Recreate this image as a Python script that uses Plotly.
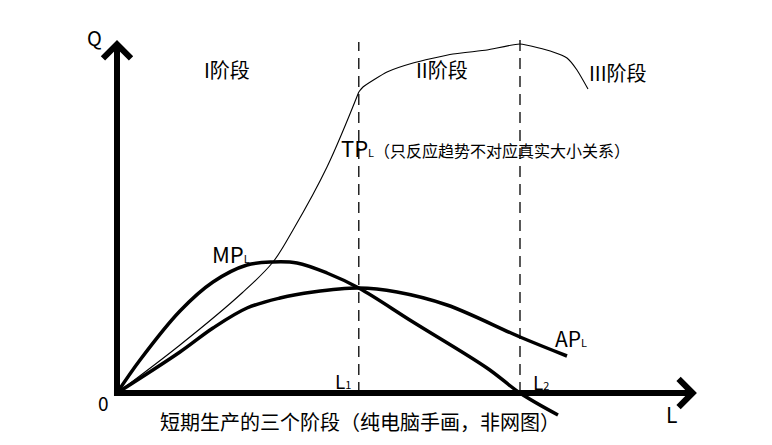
import plotly.graph_objects as go

# ---- data (labour L on x, output Q on y; arbitrary units) ----
L1 = 6.0
L2 = 10.0

tp_L = [0, 1.563, 3.102, 3.871, 4.367, 5.211, 6.0, 6.104, 6.700, 7.345, 8.337, 9.181, 10.0, 10.819, 11.166, 11.414, 11.687]
tp_Q = [0, 4.8, 10.0, 13.1, 16.3, 22.6, 30.1, 30.6, 32.1, 33.0, 33.9, 34.3, 34.9, 34.1, 33.5, 32.3, 30.4]

mp_L = [0, 0.571, 1.563, 2.382, 3.226, 3.871, 4.467, 5.211, 6.0, 7.345, 9.181, 10.0, 10.943]
mp_Q = [0, 3.3, 8.2, 11.1, 12.8, 13.1, 13.0, 12.0, 10.5, 7.1, 2.5, 0, -2.2]

ap_L = [0, 1.563, 2.382, 3.226, 4.045, 4.864, 6.0, 6.948, 8.189, 10.0, 11.166]
ap_Q = [0, 4.1, 6.5, 8.5, 9.5, 10.1, 10.5, 10.1, 8.8, 5.6, 3.7]

L_MAX = 14.39   # end of the L axis (arrow tip)
Q_MAX = 35.3    # end of the Q axis (arrow tip)
L1_TOP = 35.1
L2_TOP = 35.5

# page body has an 8px margin: figure spans screen pixels 8..764 x 8..437
OFF = 8
W, H = 756, 429
PX_PER_L = 40.3
PX_PER_Q = 10.0
X0_SCREEN, Y0_SCREEN = 117, 393
X_RANGE = [(OFF - X0_SCREEN) / PX_PER_L, (OFF + W - X0_SCREEN) / PX_PER_L]
Y_RANGE = [(Y0_SCREEN - (OFF + H)) / PX_PER_Q, (Y0_SCREEN - OFF) / PX_PER_Q]

FONT = "Noto Sans CJK SC, Noto Sans, sans-serif"

fig = go.Figure()

k = tp_L.index(L1)
fig.add_trace(go.Scatter(x=tp_L[:k + 1], y=tp_Q[:k + 1], mode="lines",
                         line=dict(color="black", width=1.1, shape="spline", smoothing=1.0),
                         hoverinfo="skip"))
fig.add_trace(go.Scatter(x=tp_L[k:], y=tp_Q[k:], mode="lines",
                         line=dict(color="black", width=1.1, shape="spline", smoothing=0.5),
                         hoverinfo="skip"))
fig.add_trace(go.Scatter(x=mp_L, y=mp_Q, mode="lines",
                         line=dict(color="black", width=3.5, shape="spline", smoothing=1.0),
                         hoverinfo="skip"))
fig.add_trace(go.Scatter(x=ap_L, y=ap_Q, mode="lines",
                         line=dict(color="black", width=3.5, shape="spline", smoothing=1.0),
                         hoverinfo="skip"))

shapes = [
    dict(type="line", xref="x", yref="y", x0=-0.075, y0=0, x1=L_MAX - 0.3, y1=0,
         line=dict(color="black", width=6)),
    dict(type="line", xref="x", yref="y", x0=0, y0=-0.3, x1=0, y1=Q_MAX - 1.0,
         line=dict(color="black", width=6)),
    dict(type="line", xref="x", yref="y", x0=L1, y0=0, x1=L1, y1=L1_TOP,
         line=dict(color="black", width=1.3, dash="11px,7px")),
    dict(type="line", xref="x", yref="y", x0=L2, y0=0, x1=L2, y1=L2_TOP,
         line=dict(color="black", width=1.3, dash="11px,7px")),
]

annotations = [
    dict(x=L_MAX, y=0, ax=L_MAX - 1.0, ay=0, xref="x", yref="y", axref="x", ayref="y",
         text="", showarrow=True, arrowhead=4, arrowsize=0.9, arrowwidth=6, arrowcolor="black"),
    dict(x=0, y=Q_MAX, ax=0, ay=Q_MAX - 3.0, xref="x", yref="y", axref="x", ayref="y",
         text="", showarrow=True, arrowhead=4, arrowsize=0.9, arrowwidth=6, arrowcolor="black"),
]


def label(text, px, py, size, xanchor="center"):
    annotations.append(dict(
        x=(px - OFF) / W, y=1 - (py - OFF) / H, xref="paper", yref="paper", text=text,
        showarrow=False, xanchor=xanchor, yanchor="middle",
        font=dict(family=FONT, size=size, color="black")))


sub = '<span style="font-size:11px">{}</span>'
label("Q", 94.5, 37.5, 20)
label("I阶段", 226.5, 70, 20)
label("II阶段", 442, 70, 20)
label("III阶段", 618, 72, 20)
label("TP" + sub.format("L")
      + '<span style="font-size:16px">（只反应趋势不对应真实大小关系）</span>', 339, 147, 22, "left")
label("MP" + sub.format("L"), 210, 253, 22, "left")
label("AP" + sub.format("L"), 553, 338, 21, "left")
label("L" + sub.format("1"), 333, 380, 19, "left")
label("L" + sub.format("2"), 531, 381, 19, "left")
label("0", 103.5, 402, 19)
label("L", 671, 414, 21)
label("短期生产的三个阶段（纯电脑手画，非网图）", 360, 421, 20)

fig.update_layout(
    width=W, height=H, margin=dict(l=0, r=0, t=0, b=0),
    paper_bgcolor="white", plot_bgcolor="white", showlegend=False,
    xaxis=dict(range=X_RANGE, visible=False, fixedrange=True),
    yaxis=dict(range=Y_RANGE, visible=False, fixedrange=True),
    shapes=shapes, annotations=annotations,
)

fig.write_html("out.html")
